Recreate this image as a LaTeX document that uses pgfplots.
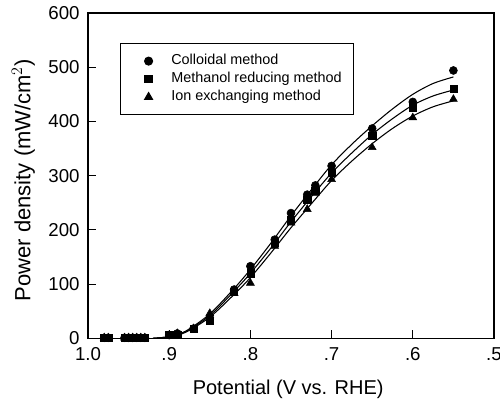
\documentclass[border=0pt]{standalone}
\usepackage{fontspec}
\setmainfont{Liberation Sans}
\usepackage{pgfplots}
\pgfplotsset{compat=1.18}
\begin{document}
\begin{tikzpicture}
\begin{axis}[
  name=ax,
  width=304.5pt, height=244pt, scale only axis,
  x dir=reverse, xmin=0.5, xmax=1.0, ymin=0, ymax=600,
  xtick={1.0,0.9,0.8,0.7,0.6,0.5},
  xticklabels={1.0,.9,.8,.7,.6,.5},
  ytick={0,100,200,300,400,500,600},
  tick align=inside,
  xtick pos=bottom, ytick pos=left,
  major tick length=6pt,
  tick style={line width=0.8pt, black},
  /pgf/number format/assume math mode=true,
  tick label style={font=\fontsize{14}{16}\selectfont},
  yticklabel style={xshift=-2.8pt},
  xticklabel style={yshift=-3.3pt},
  label style={font=\fontsize{15}{18}\selectfont},
  xlabel={Potential (V vs. RHE)},
  ylabel={Power density (mW/cm$^2$)},
  xlabel style={at={(axis description cs:0.493,-0.156)}, anchor=center},
  ylabel style={at={(axis description cs:-0.159,0.486)}, anchor=center, font=\fontsize{16.5}{19}\selectfont},
  axis line style={line width=0.9pt},
  legend style={at={(rel axis cs:0.079,0.908)}, anchor=north west,
    font=\fontsize{10.8}{13}\selectfont, draw=black, line width=0.8pt,
    inner xsep=8pt, inner ysep=7pt, row sep=1pt,
    nodes={inner sep=1pt, text height=8pt, text depth=2.5pt},
    cells={anchor=west}},
  legend cell align=left,
  legend image code/.code={\draw[#1] plot coordinates {(0pt,0pt)}; \path[draw=none,fill=none] (-13pt,0pt) (16pt,0pt);},
  clip=false,
]
% fitted curves
\addplot[black, line width=0.8pt, smooth, forget plot] coordinates {
 (0.92,0) (0.90,3) (0.88,13) (0.85,45) (0.82,92) (0.80,127) (0.775,175) (0.75,226) (0.725,274) (0.70,320) (0.675,358) (0.65,392) (0.625,423) (0.60,450) (0.575,470) (0.55,482)};
\addplot[black, line width=0.8pt, smooth, forget plot] coordinates {
 (0.92,0) (0.90,3) (0.88,12) (0.85,42) (0.82,87) (0.80,120) (0.775,166) (0.75,215) (0.725,261) (0.70,305) (0.675,342) (0.65,376) (0.625,405) (0.60,430) (0.575,447) (0.55,458)};
\addplot[black, line width=0.8pt, smooth, forget plot] coordinates {
 (0.92,0) (0.90,3) (0.88,11) (0.85,39) (0.82,81) (0.80,112) (0.775,157) (0.75,204) (0.725,248) (0.70,291) (0.675,327) (0.65,359) (0.625,387) (0.60,410) (0.575,427) (0.55,438)};
% data
\addplot[only marks, mark=*, mark size=3pt, black] coordinates {
 (0.98,1) (0.975,1) (0.955,1) (0.95,1) (0.945,1) (0.94,1) (0.935,1) (0.93,1)
 (0.90,6) (0.89,9) (0.87,18) (0.85,38) (0.82,90) (0.80,133) (0.77,182) (0.75,231) (0.73,265) (0.72,282) (0.70,318) (0.65,387) (0.60,436) (0.55,494)};
\addlegendentry{Colloidal method}
\addplot[only marks, mark=square*, mark size=2.7pt, black] coordinates {
 (0.98,1) (0.975,1) (0.955,1) (0.95,1) (0.945,1) (0.94,1) (0.935,1) (0.93,1)
 (0.90,6) (0.89,7) (0.87,17) (0.85,33) (0.82,86) (0.80,120) (0.77,176) (0.75,219) (0.73,256) (0.72,272) (0.70,305) (0.65,373) (0.60,426) (0.55,460)};
\addlegendentry{Methanol reducing method}
\addplot[only marks, mark=triangle*, mark size=3.4pt, black] coordinates {
 (0.98,1) (0.975,1) (0.955,1) (0.95,1) (0.945,1) (0.94,1) (0.935,1) (0.93,1)
 (0.90,6) (0.89,9) (0.87,18) (0.85,46) (0.82,83) (0.80,102) (0.77,170) (0.75,213) (0.73,238) (0.72,268) (0.70,293) (0.65,352) (0.60,407) (0.55,441)};
\addlegendentry{Ion exchanging method}
\end{axis}
\pgfresetboundingbox
\path ([xshift=-66pt,yshift=-54.75pt]ax.south west) rectangle ([xshift=4.5pt,yshift=9.75pt]ax.north east);
\end{tikzpicture}
\end{document}
